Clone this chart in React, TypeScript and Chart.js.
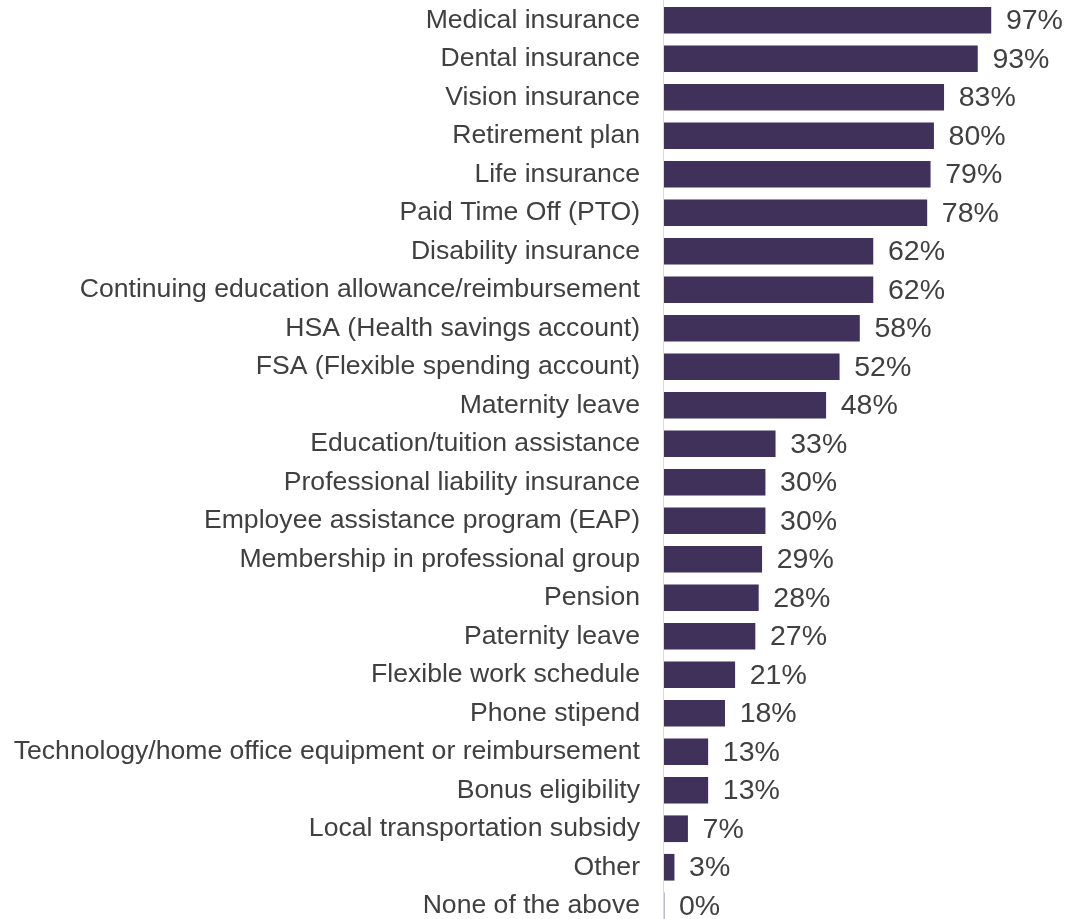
import React, { useEffect, useRef } from "react";
import { Chart, registerables } from "chart.js";

Chart.register(...registerables);

const categories: string[] = [
  "Medical insurance",
  "Dental insurance",
  "Vision insurance",
  "Retirement plan",
  "Life insurance",
  "Paid Time Off (PTO)",
  "Disability insurance",
  "Continuing education allowance/reimbursement",
  "HSA (Health savings account)",
  "FSA (Flexible spending account)",
  "Maternity leave",
  "Education/tuition assistance",
  "Professional liability insurance",
  "Employee assistance program (EAP)",
  "Membership in professional group",
  "Pension",
  "Paternity leave",
  "Flexible work schedule",
  "Phone stipend",
  "Technology/home office equipment or reimbursement",
  "Bonus eligibility",
  "Local transportation subsidy",
  "Other",
  "None of the above",
];

const values: number[] = [
  97, 93, 83, 80, 79, 78, 62, 62, 58, 52, 48, 33, 30, 30, 29, 28, 27, 21, 18, 13, 13, 7, 3, 0,
];

const FONT = "Arial, 'Liberation Sans', sans-serif";
const TEXT = "#404040";
const BAR = "#3F3159";

const valueLabels = {
  id: "valueLabels",
  afterDatasetsDraw(chart: any) {
    const ctx = chart.ctx;
    const meta = chart.getDatasetMeta(0);
    ctx.save();
    ctx.font = `28.5px ${FONT}`;
    ctx.fillStyle = TEXT;
    ctx.textAlign = "left";
    ctx.textBaseline = "middle";
    meta.data.forEach((bar: any, i: number) => {
      ctx.fillText(`${values[i]}%`, bar.x + 15, bar.y + 1);
    });
    ctx.restore();
  },
};

const axisLine = {
  id: "axisLine",
  beforeDatasetsDraw(chart: any) {
    const ctx = chart.ctx;
    const x = chart.chartArea.left - 0.5;
    ctx.save();
    ctx.strokeStyle = "#d9d9d9";
    ctx.lineWidth = 1;
    ctx.beginPath();
    ctx.moveTo(x, 0);
    ctx.lineTo(x, chart.height);
    ctx.stroke();
    ctx.restore();
  },
};

export default function App() {
  const ref = useRef<HTMLCanvasElement | null>(null);

  useEffect(() => {
    if (!ref.current) return;
    const chart = new Chart(ref.current, {
      type: "bar",
      data: {
        labels: categories,
        datasets: [
          {
            data: values,
            backgroundColor: BAR,
            borderWidth: 0,
            barThickness: 26,
          },
        ],
      },
      options: {
        indexAxis: "y",
        responsive: false,
        animation: false,
        layout: { padding: { top: 1, bottom: 0, right: 70, left: 0 } },
        plugins: {
          legend: { display: false },
          tooltip: { enabled: false },
        },
        scales: {
          x: {
            display: false,
            min: 0,
            max: 100,
          },
          y: {
            offset: true,
            grid: { display: false, drawTicks: false },
            border: { display: false },
            ticks: {
              padding: 24,
              color: TEXT,
              font: { family: FONT, size: 26.6 },
              autoSkip: false,
            },
            afterFit: (scale: any) => {
              scale.width = 664;
              scale.paddingTop = 0;
              scale.paddingBottom = 0;
            },
          },
        },
      },
      plugins: [axisLine, valueLabels],
    });
    return () => chart.destroy();
  }, []);

  return (
    <div
      style={{
        position: "fixed",
        left: 0,
        top: 0,
        width: 1071,
        height: 919,
        overflow: "hidden",
        background: "#fff",
      }}
    >
      <canvas ref={ref} width={1071} height={925} style={{ display: "block" }} />
    </div>
  );
}
